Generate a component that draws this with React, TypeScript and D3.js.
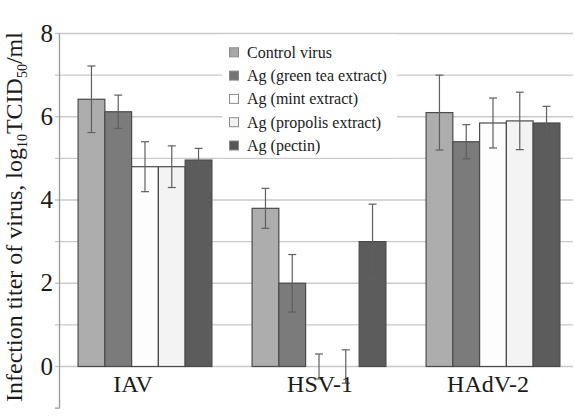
import { useRef, useEffect } from 'react';
import * as d3 from 'd3';

const viruses = ["IAV", "HSV-1", "HAdV-2"];
const series = [
  "Control virus",
  "Ag (green tea extract)",
  "Ag (mint extract)",
  "Ag (propolis extract)",
  "Ag (pectin)",
];
// mean titer per virus, one array per series
const controlVals = [6.42, 3.8, 6.1];
const greenTeaVals = [6.12, 2.0, 5.4];
const mintVals = [4.8, 0, 5.85];
const propolisVals = [4.8, 0, 5.9];
const pectinVals = [4.96, 3.0, 5.85];
// error (+/-)
const controlErr = [0.8, 0.48, 0.9];
const greenTeaErr = [0.4, 0.69, 0.41];
const mintErr = [0.6, 0.3, 0.6];
const propolisErr = [0.5, 0.4, 0.69];
const pectinErr = [0.28, 0.9, 0.4];
const yTicks = [0, 2, 4, 6, 8];

const fills = ["#adadad", "#7b7b7b", "#fdfdfd", "#f3f3f3", "#5c5c5c"];
const legendFills = ["#a8a8a8", "#767676", "#ffffff", "#f2f2f2", "#575757"];

const App = () => {
  const ref = useRef(null);

  useEffect(() => {
    d3.select(ref.current).selectAll("*").remove();
    const svg = d3.select(ref.current);
    const font = "Liberation Serif, serif";

    const values = [controlVals, greenTeaVals, mintVals, propolisVals, pectinVals];
    const errors = [controlErr, greenTeaErr, mintErr, propolisErr, pectinErr];

    const y = d3.scaleLinear().domain([0, 8]).range([366.5, 33.5]);
    const x0 = d3.scaleBand().domain(viruses).range([58, 580]);
    const x1 = d3.scaleBand().domain(series).range([0, x0.bandwidth()])
      .paddingInner(0).paddingOuter(0.75);

    // gridlines
    svg.append("g")
      .selectAll("line")
      .data(d3.range(0, 9))
      .join("line")
      .attr("x1", 55).attr("x2", 573)
      .attr("y1", d => y(d)).attr("y2", d => y(d))
      .attr("stroke", "#c9c9c9")
      .attr("stroke-width", 1.3);

    // axis line
    svg.append("line")
      .attr("x1", 59.5).attr("x2", 59.5)
      .attr("y1", y(8)).attr("y2", y(-1))
      .attr("stroke", "#999").attr("stroke-width", 1.3);
    svg.append("line")
      .attr("x1", 55).attr("x2", 59.5)
      .attr("y1", y(-1)).attr("y2", y(-1))
      .attr("stroke", "#999").attr("stroke-width", 1.3);

    // tick labels
    svg.append("g")
      .selectAll("text")
      .data(yTicks)
      .join("text")
      .attr("x", 53)
      .attr("y", d => y(d) + 8)
      .attr("text-anchor", "end")
      .attr("font-family", font)
      .attr("font-size", 25)
      .attr("fill", "#1a1a1a")
      .text(d => d);

    // legend background
    svg.append("rect")
      .attr("x", 222).attr("y", y(8) + 1)
      .attr("width", 175).attr("height", y(5) - y(8) - 2)
      .attr("fill", "#fff");

    // bars
    const groups = svg.append("g")
      .selectAll("g")
      .data(viruses)
      .join("g")
      .attr("transform", d => `translate(${x0(d)},0)`);

    groups.selectAll("rect")
      .data((v, vi) => series.map((s, si) => ({ s, si, val: values[si][vi] })))
      .join("rect")
      .attr("x", d => x1(d.s))
      .attr("y", d => y(d.val))
      .attr("width", x1.bandwidth())
      .attr("height", d => y(0) - y(d.val))
      .attr("fill", d => fills[d.si])
      .attr("stroke", "#4a4a4a")
      .attr("stroke-width", 1.2);

    // error bars
    const errG = groups.selectAll("g.err")
      .data((v, vi) => series.map((s, si) => ({ s, si, val: values[si][vi], e: errors[si][vi] })))
      .join("g")
      .attr("class", "err")
      .attr("transform", d => `translate(${x1(d.s) + x1.bandwidth() / 2},0)`);
    errG.append("line")
      .attr("y1", d => y(d.val + d.e)).attr("y2", d => y(d.val - d.e))
      .attr("stroke", "#5f5f5f").attr("stroke-width", 1.2);
    errG.append("line")
      .attr("x1", -4).attr("x2", 4)
      .attr("y1", d => y(d.val + d.e)).attr("y2", d => y(d.val + d.e))
      .attr("stroke", "#5f5f5f").attr("stroke-width", 1.2);
    errG.append("line")
      .attr("x1", -4).attr("x2", 4)
      .attr("y1", d => y(d.val - d.e)).attr("y2", d => y(d.val - d.e))
      .attr("stroke", "#5f5f5f").attr("stroke-width", 1.2);

    // category labels
    svg.append("g")
      .selectAll("text")
      .data(viruses)
      .join("text")
      .attr("x", (d, i) => x0(d) + x0.bandwidth() / 2 + [-12, 1, -5][i])
      .attr("y", 392)
      .attr("text-anchor", "middle")
      .attr("font-family", font)
      .attr("font-size", 24)
      .attr("fill", "#1a1a1a")
      .text(d => d);

    // legend
    const leg = svg.append("g")
      .selectAll("g")
      .data(series)
      .join("g")
      .attr("transform", (d, i) => `translate(229,${52.3 + i * 23.3})`);
    leg.append("rect")
      .attr("x", 0.5).attr("y", -4.5)
      .attr("width", 9).attr("height", 9)
      .attr("fill", (d, i) => legendFills[i])
      .attr("stroke", "#8a8a8a").attr("stroke-width", 1);
    leg.append("text")
      .attr("x", 18).attr("y", 5.5)
      .attr("font-family", font)
      .attr("font-size", 16)
      .attr("fill", "#1a1a1a")
      .text(d => d);

    // y axis title
    const title = svg.append("text")
      .attr("transform", "translate(21.5,217) rotate(-90)")
      .attr("text-anchor", "middle")
      .attr("font-family", font)
      .attr("font-size", 24)
      .attr("fill", "#1a1a1a");
    title.append("tspan").text("Infection titer of virus, log");
    title.append("tspan").attr("font-size", 14).attr("dy", 5).text("10");
    title.append("tspan").attr("dy", -5).text("TCID");
    title.append("tspan").attr("font-size", 14).attr("dy", 5).text("50");
    title.append("tspan").attr("dy", -5).text("/ml");
  }, []);

  return (
    <svg ref={ref} width={575} height={417}
      style={{ position: "absolute", left: 0, top: 0, background: "#fff" }} />
  );
};

export default App;
